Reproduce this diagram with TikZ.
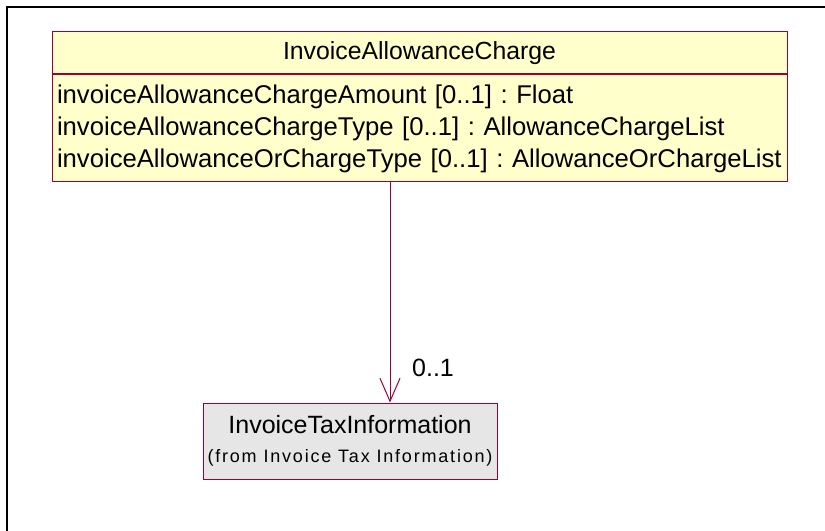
\documentclass[tikz,border=0pt]{standalone}
\usepackage{fontspec}
\setmainfont{Liberation Sans}
\usetikzlibrary{arrows.meta}

\definecolor{umlred}{RGB}{153,0,51}
\definecolor{classfill}{RGB}{255,255,204}
\definecolor{reffill}{RGB}{230,230,230}

\tikzset{
  classhead/.style={draw=umlred, fill=classfill, line width=0.75pt, inner sep=0pt,
    minimum width=551.25pt, minimum height=31.5pt, font=\fontsize{18.6}{22}\selectfont},
  classattr/.style={draw=umlred, fill=classfill, line width=0.75pt, inner xsep=3.75pt,
    inner ysep=0pt, text width=543.75pt, minimum height=80.25pt, align=left,
    font=\fontsize{19.25}{24}\selectfont\frenchspacing},
  refclass/.style={draw=umlred, fill=reffill, line width=0.75pt, inner sep=0pt,
    minimum width=220.5pt, minimum height=57pt, align=center,
    font=\fontsize{18.75}{21.75}\selectfont},
  assoc/.style={draw=umlred, line width=0.75pt, -{Straight Barb[length=17.25pt,width=15pt]}},
  multlabel/.style={font=\fontsize{18.75}{22}\selectfont, inner sep=0pt}
}

\begin{document}
\begin{tikzpicture}[x=0.75pt,y=0.75pt,yscale=-1,xscale=1]
\useasboundingbox (0,0) rectangle (825,531);

%Frame
\draw [line width=1.5pt] (7,531) -- (7,7) -- (825,7) ;

%Class [InvoiceAllowanceCharge]
\node [classhead] (chargehead) at (419.5,53) {InvoiceAllowanceCharge};
\node [classattr, anchor=north] (chargeattr) at (chargehead.south) {%
\mbox{invoiceAllowanceChargeAmount [0..1] : Float}\\
\mbox{invoiceAllowanceChargeType [0..1] : AllowanceChargeList}\\
\mbox{invoiceAllowanceOrChargeType [0..1] : AllowanceOrChargeList}};

%Class [InvoiceTaxInformation]
\node [refclass] (taxinfo) at (350,441) {InvoiceTaxInformation\\
{\fontsize{13.5}{21.75}\selectfont\addfontfeature{LetterSpace=10}(from Invoice Tax Information)}};

%Association
\coordinate (link) at (390,0);
\draw [assoc] (chargeattr.south -| link) -- (taxinfo.north -| link) ;

% Text Node
\node [multlabel] (mult) at (433,368) {0..1};

\end{tikzpicture}
\end{document}
